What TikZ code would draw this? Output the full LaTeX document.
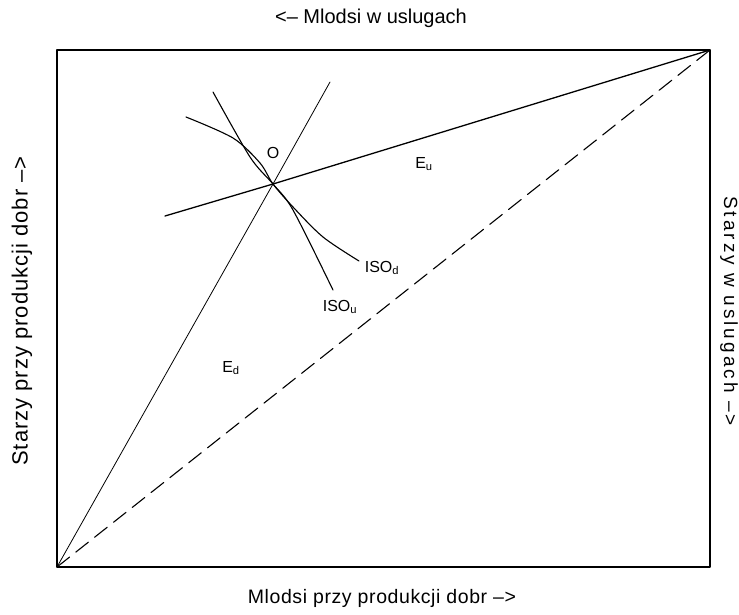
\documentclass[tikz,border=0pt]{standalone}
\usepackage{fontspec}
\setmainfont{Liberation Sans}
\usetikzlibrary{arrows.meta}

\begin{document}
\begin{tikzpicture}[x=1pt, y=-1pt, line cap=round, line join=round,
    axislabel/.style={font=\fontsize{20}{22}\selectfont, inner sep=0pt},
    curvelabel/.style={font=\fontsize{16}{18}\selectfont, inner sep=0pt}]
    \useasboundingbox (0,0) rectangle (739,614);

    % corners of the box
    \coordinate (Od) at (57,567);
    \coordinate (Ou) at (710,50);
    \coordinate (TL) at (57,50);
    \coordinate (BR) at (710,567);

    % optimum point and line ends
    \coordinate (O)   at (273,184);
    \coordinate (EdE) at (330,82);
    \coordinate (EuS) at (165,216);

    \draw[line width=1.6pt] (Od) -- (TL) -- (Ou) -- (BR) -- cycle;

    \draw[line width=0.8pt] (Od) -- (O) -- (EdE);
    \draw[line width=1.3pt] (EuS) -- (O) -- (Ou);
    \draw[line width=1.1pt, dash pattern=on 16pt off 8pt] (Od) -- (Ou);

    % isoquants
    \draw[line width=1.1pt] plot[smooth] coordinates
        {(186,117) (233,138) (260,163) (O) (293,207) (323,237) (359,261)};
    \draw[line width=1.1pt] plot[smooth] coordinates
        {(213,92) (250,157) (O) (293,210) (333,290)};

    \node[curvelabel] (lO)    at (273,153) {O};
    \node[curvelabel] (lEu)   at (424,164) {E\textsubscript{u}};
    \node[curvelabel] (lEd)   at (231,368) {E\textsubscript{d}};
    \node[curvelabel] (lISOd) at (382,268) {ISO\textsubscript{d}};
    \node[curvelabel] (lISOu) at (340,307) {ISO\textsubscript{u}};

    \node[axislabel] (top) at (371,18) {<-- Mlodsi w uslugach};
    \node[axislabel, font=\fontsize{19.5}{22}\selectfont\addfontfeature{LetterSpace=3}]
        (bottom) at (382,598) {Mlodsi przy produkcji dobr -->};
    \node[axislabel, rotate=90, font=\fontsize{22}{24}\selectfont\addfontfeature{LetterSpace=4.5}]
        (left) at (22,311) {Starzy przy produkcji dobr -->};
    \node[axislabel, rotate=-90, font=\fontsize{19}{21}\selectfont\addfontfeature{LetterSpace=16}]
        (right) at (729,311) {Starzy w uslugach -->};
\end{tikzpicture}
\end{document}
